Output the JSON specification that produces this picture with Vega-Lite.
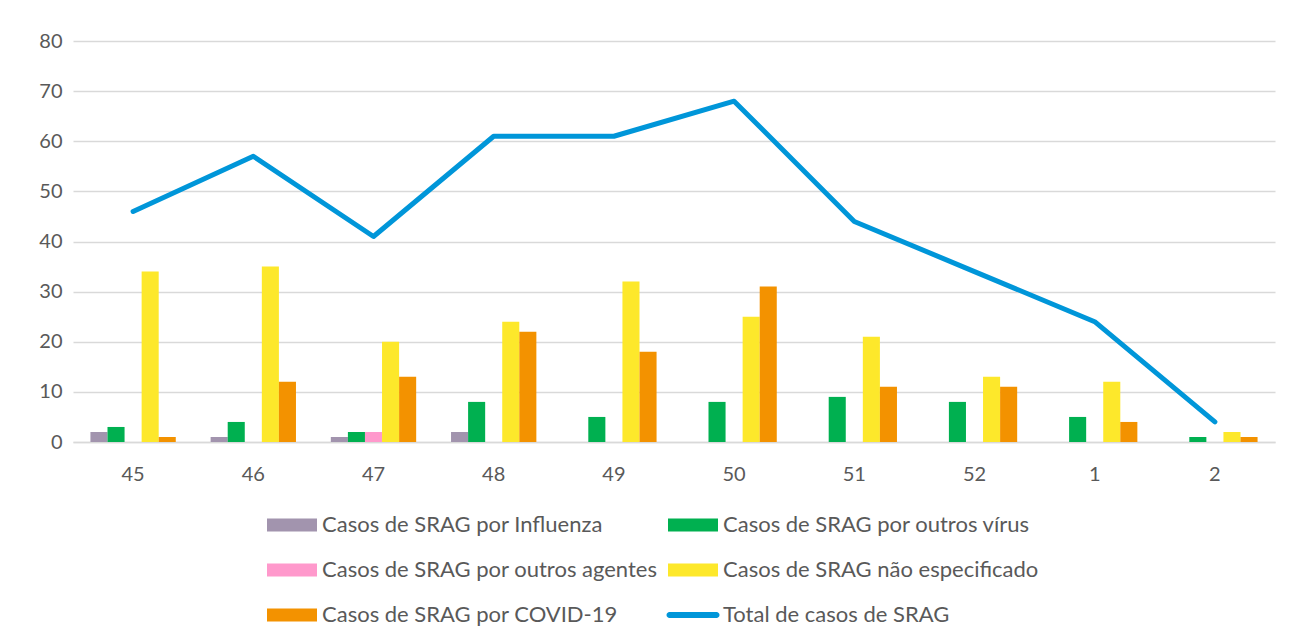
{
  "$schema": "https://vega.github.io/schema/vega-lite/v6.json",
  "width": 1202,
  "height": 401,
  "autosize": {"type": "none"},
  "padding": {"left": 73, "top": 41, "right": 15, "bottom": 202},
  "background": "white",
  "config": {
    "view": {"stroke": null},
    "font": "Lato",
    "axis": {"labelColor": "#595959", "labelFont": "Lato", "labelFontSize": 20, "title": null}
  },
  "datasets": {
    "bars": [
      {"semana": "45", "serie": "Casos de SRAG por Influenza", "casos": 2},
      {"semana": "45", "serie": "Casos de SRAG por outros vírus", "casos": 3},
      {"semana": "45", "serie": "Casos de SRAG por outros agentes", "casos": 0},
      {"semana": "45", "serie": "Casos de SRAG não especificado", "casos": 34},
      {"semana": "45", "serie": "Casos de SRAG por COVID-19", "casos": 1},
      {"semana": "46", "serie": "Casos de SRAG por Influenza", "casos": 1},
      {"semana": "46", "serie": "Casos de SRAG por outros vírus", "casos": 4},
      {"semana": "46", "serie": "Casos de SRAG por outros agentes", "casos": 0},
      {"semana": "46", "serie": "Casos de SRAG não especificado", "casos": 35},
      {"semana": "46", "serie": "Casos de SRAG por COVID-19", "casos": 12},
      {"semana": "47", "serie": "Casos de SRAG por Influenza", "casos": 1},
      {"semana": "47", "serie": "Casos de SRAG por outros vírus", "casos": 2},
      {"semana": "47", "serie": "Casos de SRAG por outros agentes", "casos": 2},
      {"semana": "47", "serie": "Casos de SRAG não especificado", "casos": 20},
      {"semana": "47", "serie": "Casos de SRAG por COVID-19", "casos": 13},
      {"semana": "48", "serie": "Casos de SRAG por Influenza", "casos": 2},
      {"semana": "48", "serie": "Casos de SRAG por outros vírus", "casos": 8},
      {"semana": "48", "serie": "Casos de SRAG por outros agentes", "casos": 0},
      {"semana": "48", "serie": "Casos de SRAG não especificado", "casos": 24},
      {"semana": "48", "serie": "Casos de SRAG por COVID-19", "casos": 22},
      {"semana": "49", "serie": "Casos de SRAG por Influenza", "casos": 0},
      {"semana": "49", "serie": "Casos de SRAG por outros vírus", "casos": 5},
      {"semana": "49", "serie": "Casos de SRAG por outros agentes", "casos": 0},
      {"semana": "49", "serie": "Casos de SRAG não especificado", "casos": 32},
      {"semana": "49", "serie": "Casos de SRAG por COVID-19", "casos": 18},
      {"semana": "50", "serie": "Casos de SRAG por Influenza", "casos": 0},
      {"semana": "50", "serie": "Casos de SRAG por outros vírus", "casos": 8},
      {"semana": "50", "serie": "Casos de SRAG por outros agentes", "casos": 0},
      {"semana": "50", "serie": "Casos de SRAG não especificado", "casos": 25},
      {"semana": "50", "serie": "Casos de SRAG por COVID-19", "casos": 31},
      {"semana": "51", "serie": "Casos de SRAG por Influenza", "casos": 0},
      {"semana": "51", "serie": "Casos de SRAG por outros vírus", "casos": 9},
      {"semana": "51", "serie": "Casos de SRAG por outros agentes", "casos": 0},
      {"semana": "51", "serie": "Casos de SRAG não especificado", "casos": 21},
      {"semana": "51", "serie": "Casos de SRAG por COVID-19", "casos": 11},
      {"semana": "52", "serie": "Casos de SRAG por Influenza", "casos": 0},
      {"semana": "52", "serie": "Casos de SRAG por outros vírus", "casos": 8},
      {"semana": "52", "serie": "Casos de SRAG por outros agentes", "casos": 0},
      {"semana": "52", "serie": "Casos de SRAG não especificado", "casos": 13},
      {"semana": "52", "serie": "Casos de SRAG por COVID-19", "casos": 11},
      {"semana": "1", "serie": "Casos de SRAG por Influenza", "casos": 0},
      {"semana": "1", "serie": "Casos de SRAG por outros vírus", "casos": 5},
      {"semana": "1", "serie": "Casos de SRAG por outros agentes", "casos": 0},
      {"semana": "1", "serie": "Casos de SRAG não especificado", "casos": 12},
      {"semana": "1", "serie": "Casos de SRAG por COVID-19", "casos": 4},
      {"semana": "2", "serie": "Casos de SRAG por Influenza", "casos": 0},
      {"semana": "2", "serie": "Casos de SRAG por outros vírus", "casos": 1},
      {"semana": "2", "serie": "Casos de SRAG por outros agentes", "casos": 0},
      {"semana": "2", "serie": "Casos de SRAG não especificado", "casos": 2},
      {"semana": "2", "serie": "Casos de SRAG por COVID-19", "casos": 1}
    ],
    "total": [
      {"semana": "45", "serie": "Total de casos de SRAG", "casos": 46},
      {"semana": "46", "serie": "Total de casos de SRAG", "casos": 57},
      {"semana": "47", "serie": "Total de casos de SRAG", "casos": 41},
      {"semana": "48", "serie": "Total de casos de SRAG", "casos": 61},
      {"semana": "49", "serie": "Total de casos de SRAG", "casos": 61},
      {"semana": "50", "serie": "Total de casos de SRAG", "casos": 68},
      {"semana": "51", "serie": "Total de casos de SRAG", "casos": 44},
      {"semana": "52", "serie": "Total de casos de SRAG", "casos": 34},
      {"semana": "1", "serie": "Total de casos de SRAG", "casos": 24},
      {"semana": "2", "serie": "Total de casos de SRAG", "casos": 4}
    ]
  },
  "encoding": {
    "x": {
      "field": "semana",
      "type": "nominal",
      "sort": ["45", "46", "47", "48", "49", "50", "51", "52", "1", "2"],
      "scale": {"paddingInner": 0.29, "paddingOuter": 0.145},
      "axis": {"labelAngle": 0, "ticks": false, "domain": true, "domainColor": "#d9d9d9", "domainWidth": 1.5, "labelPadding": 22, "grid": false}
    },
    "y": {
      "field": "casos",
      "type": "quantitative",
      "scale": {"domain": [0, 80], "nice": false},
      "axis": {"values": [0, 10, 20, 30, 40, 50, 60, 70, 80], "ticks": false, "domain": false, "gridColor": "#d9d9d9", "gridWidth": 1.5, "labelPadding": 11}
    },
    "color": {
      "field": "serie",
      "type": "nominal",
      "scale": {
        "domain": ["Casos de SRAG por Influenza", "Casos de SRAG por outros vírus", "Casos de SRAG por outros agentes", "Casos de SRAG não especificado", "Casos de SRAG por COVID-19", "Total de casos de SRAG"],
        "range": ["#A294AE", "#00B050", "#FF99CC", "#FDE82B", "#F39200", "#0096D9"]
      },
      "legend": {
        "title": null,
        "orient": "none",
        "legendX": 194,
        "legendY": 459,
        "direction": "horizontal",
        "columns": 2,
        "labelFont": "Lato",
        "labelFontSize": 22,
        "labelColor": "#595959",
        "labelOffset": 5,
        "labelLimit": 500,
        "columnPadding": 8,
        "rowPadding": 9,
        "symbolSize": 2500,
        "symbolType": "M-1,-0.26H1V0.26H-1Z",
        "symbolStrokeWidth": 0,
        "encode": {
          "symbols": {
            "update": {
              "fill": {"scale": "color", "field": "value"},
              "fillOpacity": {"value": 1},
              "strokeWidth": {"value": 0},
              "shape": {"signal": "datum.value === 'Total de casos de SRAG' ? 'M-0.94,-0.12H0.94A0.12,0.12,0,0,1,0.94,0.12H-0.94A0.12,0.12,0,0,1,-0.94,-0.12Z' : 'M-1,-0.26H1V0.26H-1Z'"}
            }
          }
        }
      }
    }
  },
  "layer": [
    {
      "data": {"name": "bars"},
      "mark": {"type": "bar"},
      "encoding": {
        "xOffset": {
          "field": "serie",
          "type": "nominal",
          "scale": {"domain": ["Casos de SRAG por Influenza", "Casos de SRAG por outros vírus", "Casos de SRAG por outros agentes", "Casos de SRAG não especificado", "Casos de SRAG por COVID-19"], "paddingInner": 0, "paddingOuter": 0}
        }
      }
    },
    {
      "data": {"name": "total"},
      "mark": {"type": "line", "strokeWidth": 5, "strokeCap": "round", "strokeJoin": "round"},
      "encoding": {}
    }
  ]
}
